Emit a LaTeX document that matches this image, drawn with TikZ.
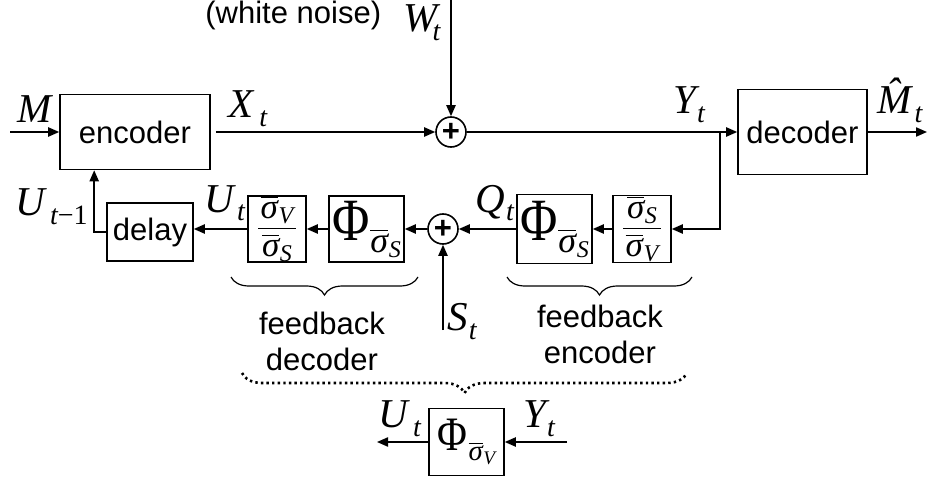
\documentclass[tikz,border=0pt]{standalone}
\usepackage{fontspec}
\setmainfont{Liberation Sans}
\newfontfamily\tms{Liberation Serif}
\usetikzlibrary{arrows.meta, decorations.pathreplacing}

% italic symbol with lowered subscript
\newcommand{\sbt}[3][3pt]{#2\kern#1\raisebox{-4.5pt}{\fontsize{14}{14}\selectfont #3}}
% sigma bar with index
\newcommand{\sgb}[2][12]{$\overline{\hbox{\tms\itshape σ}}$\kern0.3pt\raisebox{-2.5pt}{\fontsize{#1}{#1}\selectfont\tms\itshape #2}}
\newcommand{\phisub}[1]{{\fontsize{30}{30}\selectfont\tms\scalebox{0.85}[1]{Φ}}\kern0.5pt\raisebox{-6pt}{\fontsize{18}{18}\selectfont\sgb{#1}}}
\newcommand{\sgfrac}[2]{{\fontsize{17.5}{17.5}\selectfont
    $\vcenter{\hbox to 19pt{\hss\sgb{#1}\hss}\kern2pt\hrule height0.6pt\kern2.5pt\hbox to 19pt{\hss\sgb{#2}\hss}}$}}

\begin{document}
\begin{tikzpicture}[x=0.5pt, y=-0.5pt,
    blk/.style={draw, line width=0.8pt, inner sep=0pt, font=\fontsize{15.5}{18}\selectfont},
    sumnode/.style={draw, circle, line width=0.8pt, minimum size=15pt, inner sep=0pt,
        font=\fontsize{15.5}{15.5}\selectfont\bfseries},
    sig/.style={line width=0.8pt, -{Triangle[length=5.5pt,width=4.6pt]}},
    lbl/.style={inner sep=0pt, anchor=base west, font=\fontsize{20.5}{20.5}\selectfont\tms\itshape},
    txt/.style={inner sep=0pt, align=center, font=\fontsize{15.5}{18}\selectfont}]
    \useasboundingbox (0,0) rectangle (928,482);

    % forward path
    \node[blk, minimum width=75pt, minimum height=37.5pt] (encoder) at (135,132) {encoder};
    \node[sumnode] (sum1) at (451,132) {+};
    \node[blk, minimum width=64.5pt, minimum height=42.5pt] (decoder) at (802.5,132) {decoder};
    \coordinate (min) at (10,132);
    \coordinate (wtop) at (451,0);
    \coordinate (mout) at (927,132);
    \coordinate (br) at (720,132);

    % feedback path
    \node[blk, minimum width=29pt, minimum height=33.5pt] (frac1) at (642,229) {\sgfrac{S}{V}};
    \node[blk, minimum width=37.5pt, minimum height=34.5pt] (phi1) at (554.5,229) {\phisub{S}};
    \node[sumnode] (sum2) at (443,229) {+};
    \node[blk, minimum width=37.5pt, minimum height=33pt] (phi2) at (366.5,229) {\phisub{S}};
    \node[blk, minimum width=29pt, minimum height=33pt] (frac2) at (277,229) {\sgfrac{V}{S}};
    \node[blk, minimum width=43pt, minimum height=29pt] (delay) at (150,232) {delay};
    \coordinate (sin) at (443,330);

    % equivalent block
    \node[blk, minimum width=37.5pt, minimum height=33.5pt] (phi3) at (466.5,442) {\scalebox{0.8}{\phisub{V}}};
    \coordinate (uout) at (377,442);
    \coordinate (yin) at (567,442);

    % labels
    \node[lbl] (mlbl) at (17,122) {M};
    \node[lbl] (xlbl) at (228,118) {\sbt{X}{t}};
    \node[lbl] (wlbl) at (403,32) {\sbt[-2.5pt]{W}{t}};
    \node[txt, anchor=base west] (noise) at (205,24) {(white noise)};
    \node[lbl] (ylbl) at (673,113) {\sbt[0.5pt]{Y}{t}};
    \node[lbl] (mhat) at (877,113) {\sbt[1.5pt]{\^M}{t}};
    \node[lbl] (ut1lbl) at (15,215) {\sbt[2.5pt]{U}{t\upshape −1}};
    \node[lbl] (utlbl) at (204,212) {\sbt[1.5pt]{U}{t}};
    \node[lbl] (qlbl) at (475,212) {\sbt[0.5pt]{Q}{t}};
    \node[lbl] (slbl) at (447,330) {\sbt[0.5pt]{S}{t}};
    \node[lbl] (ublbl) at (378,427) {\sbt[2.5pt]{U}{t}};
    \node[lbl] (yblbl) at (523,427) {\sbt[0.5pt]{Y}{t}};
    \node[txt] (fbdec) at (322,341) {feedback\\decoder};
    \node[txt] (fbenc) at (600,334) {feedback\\encoder};

    % connections
    \draw[sig] (min) -- (encoder.west);
    \draw[sig, shorten <=2.5pt] (encoder.east) -- (sum1.west);
    \draw[sig] (wtop) -- (sum1.north);
    \draw[line width=0.8pt] (sum1.east) -- (br);
    \draw[sig] (br) -- (decoder.west);
    \draw[sig] (decoder.east) -- (mout);
    \draw[sig] (br) |- (frac1.east);
    \draw[sig] (frac1.west) -- (phi1.east);
    \draw[sig] (phi1.west) -- (sum2.east);
    \draw[sig] (sum2.west) -- (phi2.east);
    \draw[sig] (phi2.west) -- (frac2.east);
    \draw[sig] (frac2.west) -- (frac2.west -| delay.east);
    \draw[sig] (delay.west) -| ([xshift=17.5pt]encoder.south west);
    \draw[sig] (sin) -- (sum2.south);
    \draw[sig] (phi3.west) -- (uout);
    \draw[sig] (yin) -- (phi3.east);

    % braces
    \draw[line width=0.6pt, decorate, decoration={brace, mirror, amplitude=9pt}] (231,277) -- (418,277);
    \draw[line width=0.6pt, decorate, decoration={brace, mirror, amplitude=9pt}] (507,277) -- (692,277);
    \draw[line width=1.3pt, dash pattern=on 1.2pt off 1.6pt, decorate,
        decoration={brace, mirror, amplitude=10pt}] (242,373) -- (687,373);
\end{tikzpicture}
\end{document}
